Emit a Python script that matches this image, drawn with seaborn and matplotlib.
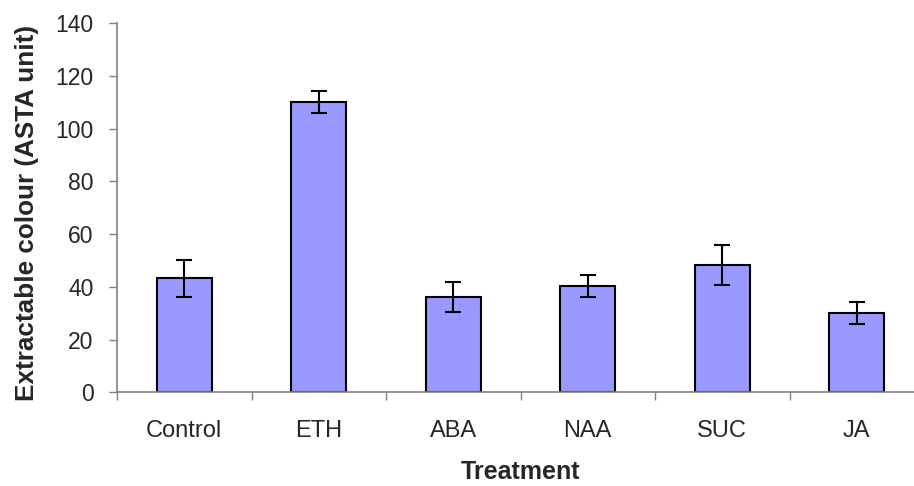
import numpy as np
import pandas as pd
import matplotlib
matplotlib.use("Agg")
import matplotlib.pyplot as plt
import seaborn as sns

treatments = ["Control", "ETH", "ABA", "NAA", "SUC", "JA"]
colour_mean = [43.2, 110.3, 36.0, 40.4, 48.4, 30.0]
colour_err = [6.9, 4.2, 5.7, 4.2, 7.6, 4.2]

sns.set_theme(style="white")
plt.rcParams["font.family"] = ["Liberation Sans", "DejaVu Sans"]

df = pd.DataFrame({"Treatment": treatments, "Colour": colour_mean})

fig = plt.figure(figsize=(9.14, 4.86), dpi=100)
ax = fig.add_axes([0.128, 0.193, 0.883, 0.759])

sns.barplot(data=df, x="Treatment", y="Colour", color="#9999FF",
            saturation=1, width=0.41, edgecolor="black", linewidth=1.5,
            errorbar=None, ax=ax)
ax.errorbar(np.arange(len(treatments)), colour_mean, yerr=colour_err,
            fmt="none", ecolor="black", elinewidth=1.5, capsize=5.5,
            capthick=1.5, zorder=5)

ax.set_ylim(0, 140)
ax.set_xlim(-0.5, len(treatments) - 0.5)
ax.set_yticks(np.arange(0, 141, 20))

# category boundaries carry the tick marks, centres carry the labels
ax.set_xticks(np.arange(-0.5, len(treatments), 1.0))
ax.set_xticklabels([])
ax.set_xticks(np.arange(len(treatments)), minor=True)
ax.set_xticklabels(treatments, minor=True)
ax.tick_params(axis="x", which="major", direction="out", length=6,
               width=1, color="#808080", bottom=True)
ax.tick_params(axis="x", which="minor", length=0, pad=20, labelsize=17)
ax.tick_params(axis="y", direction="out", length=6, width=1,
               color="#808080", left=True, labelsize=16.5, pad=11)

for side in ["top", "right"]:
    ax.spines[side].set_visible(False)
for side in ["left", "bottom"]:
    ax.spines[side].set_color("#808080")
    ax.spines[side].set_linewidth(1.2)

ax.set_xlabel("Treatment", fontsize=18, fontweight="bold", va="center")
ax.xaxis.set_label_coords(0.5, -0.217)
ax.set_ylabel("Extractable colour (ASTA unit)", fontsize=18.8,
              fontweight="bold", va="center")
ax.yaxis.set_label_coords(-0.111, 0.487)

fig.savefig("out.png", dpi=100)
